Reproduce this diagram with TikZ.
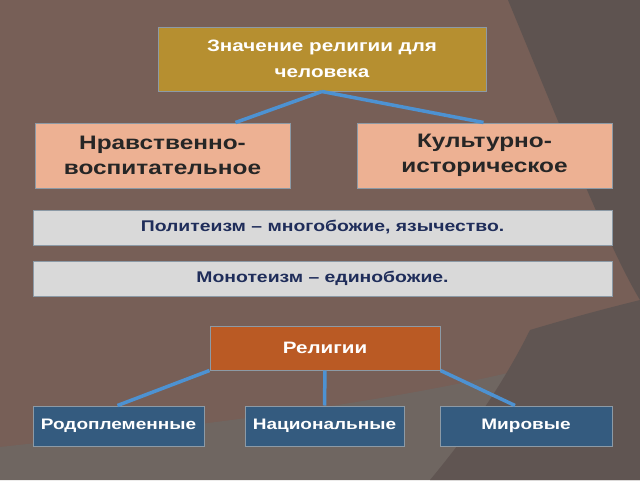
\documentclass[tikz,border=0pt]{standalone}
\usepackage{fontspec}
\setmainfont[FakeStretch=1.25]{Liberation Sans}
\definecolor{bgbrown}{HTML}{775F57}
\definecolor{bgdark}{HTML}{5E5350}
\definecolor{bggray}{HTML}{6F6661}
\definecolor{gold}{HTML}{B68F30}
\definecolor{peach}{HTML}{EDB193}
\definecolor{lgray}{HTML}{D9D9D9}
\definecolor{navy}{HTML}{1F2D5A}
\definecolor{rust}{HTML}{BA5A24}
\definecolor{steel}{HTML}{345B7F}
\definecolor{link}{HTML}{4D92D2}
\definecolor{edge}{HTML}{8C9AA6}
\begin{document}
\begin{tikzpicture}[x=1pt,y=-1pt]
	\tikzset{box/.style={draw=edge,line width=1pt,inner sep=0pt,align=center,font=\bfseries},
		conn/.style={link,line width=3.5pt}}
	\fill [bgbrown] (0,0) rectangle (640,480);
	\fill [bgdark] (508,0) .. controls (570,150) and (610,250) .. (640,300) -- (640,0) -- cycle;
	\fill [bggray] (0,447) .. controls (250,420) and (500,390) .. (640,333) -- (640,480) -- (0,480) -- cycle;
	\fill [bgdark!90!bggray] (430,480) .. controls (480,420) and (510,370) .. (530,330) .. controls (580,315) and (620,305) .. (640,300) -- (640,480) -- cycle;
	\useasboundingbox (0,0) rectangle (640,480);
	\node [box,fill=gold,text=white,minimum width=328pt,minimum height=64pt,font=\bfseries\fontsize{16.5}{26}\selectfont] (sense) at (322,59) {Значение религии для\\человека};
	\node [box,fill=peach,text=black!85,minimum width=255pt,minimum height=65pt,font=\bfseries\fontsize{19.5}{25}\selectfont] (moral) at (162.5,155.5) {Нравственно-\\воспитательное};
	\node [box,fill=peach,text=black!85,minimum width=255pt,minimum height=65pt,font=\bfseries\fontsize{19.5}{25}\selectfont] (culture) at (484.5,155.5) {Культурно-\\историческое};
	\node [box,fill=lgray,text=navy,minimum width=579pt,minimum height=35pt,font=\bfseries\fontsize{15.5}{18}\selectfont] (poly) at (322.5,227.5) {Политеизм – многобожие, язычество.};
	\node [box,fill=lgray,text=navy,minimum width=579pt,minimum height=35pt,font=\bfseries\fontsize{15.5}{18}\selectfont] (mono) at (322.5,278.5) {Монотеизм – единобожие.};
	\node [box,fill=rust,text=white,minimum width=230pt,minimum height=44pt,font=\bfseries\fontsize{16.5}{19}\selectfont] (rel) at (325,348) {Религии};
	\node [box,fill=steel,text=white,minimum width=171pt,minimum height=40pt,font=\bfseries\fontsize{15.2}{18}\selectfont] (tribal) at (118.5,426) {Родоплеменные};
	\node [box,fill=steel,text=white,minimum width=159pt,minimum height=40pt,font=\bfseries\fontsize{15.2}{18}\selectfont] (nation) at (324.5,426) {Национальные};
	\node [box,fill=steel,text=white,minimum width=172pt,minimum height=40pt,font=\bfseries\fontsize{15.2}{18}\selectfont] (world) at (526,426) {Мировые};
	\draw [conn] (sense.south) -- ([xshift=-55pt]moral.north east);
	\draw [conn] (sense.south) -- ([xshift=-1pt]culture.north);
	\draw [conn] (rel.south west) -- ([xshift=-1pt]tribal.north);
	\draw [conn] (rel.south) -- (nation.north);
	\draw [conn] (rel.south east) -- ([xshift=-11pt]world.north);
\end{tikzpicture}
\end{document}
